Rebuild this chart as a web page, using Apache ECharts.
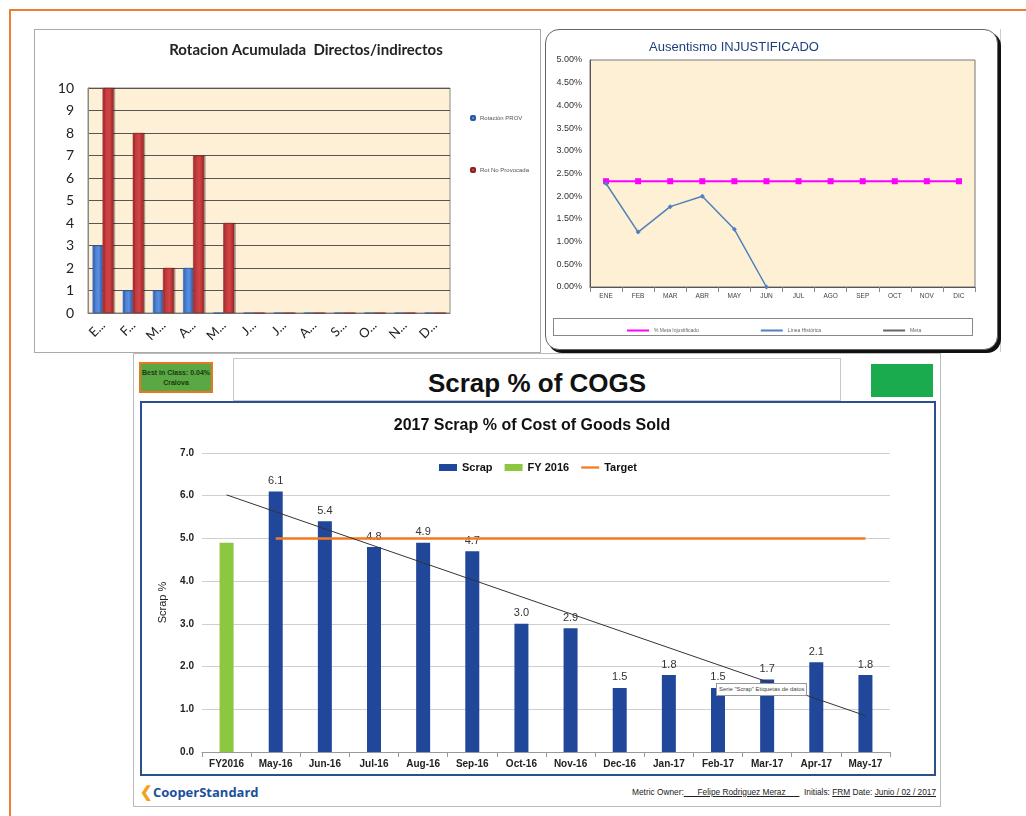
<!DOCTYPE html>
<html><head><meta charset="utf-8">
<script src="https://cdn.jsdelivr.net/npm/echarts@6/dist/echarts.min.js"></script>
<style>
html,body{margin:0;padding:0;background:#fff;width:1026px;height:816px;overflow:hidden;font-family:"Liberation Sans",Arial,sans-serif;}
.abs{position:absolute;box-sizing:border-box;}
</style></head><body>
<!-- orange frame -->
<div class="abs" style="left:10px;top:9px;width:1016px;height:2px;background:#f07c2f"></div>
<div class="abs" style="left:9px;top:9px;width:2px;height:807px;background:#f07c2f"></div>
<!-- panel 1 -->
<div class="abs" style="left:34px;top:29px;width:507px;height:324px;border:1px solid #aaa;background:#fff"></div>
<div id="c1" class="abs" style="left:35px;top:30px;width:505px;height:322px"></div>
<!-- panel 2 -->
<div class="abs" style="left:1000px;top:29px;width:26px;height:323px;border-left:1px solid #ccc"></div>
<div class="abs" style="left:545px;top:29px;width:453px;height:321px;border:1px solid #666;border-radius:14px;box-shadow:3px 3px 0 #111;background:#fff"></div>
<div id="c2" class="abs" style="left:546px;top:30px;width:450px;height:318px"></div>
<div class="abs" style="left:553px;top:318px;width:420px;height:18px;border:1px solid #888"></div>
<!-- panel 3 -->
<div class="abs" style="left:133px;top:353px;width:808px;height:454px;border:1px solid #bbb;background:#fff"></div>
<div class="abs" style="left:233px;top:358px;width:608px;height:43px;border:1px solid #c8c8c8"></div>
<div class="abs" style="left:139px;top:362px;width:74px;height:31px;background:#5aa843;border:2px solid #e87722;font:bold 7px 'Liberation Sans',Arial;color:#1d3a12;text-align:center;line-height:10px;padding-top:4px;white-space:nowrap">Best in Class: 0.04%<br>Cralova</div>
<div class="abs" style="left:300px;top:366px;width:474px;height:34px;text-align:center;font:bold 26px 'Liberation Sans',Arial;color:#111;line-height:34px">Scrap % of COGS</div>
<div class="abs" style="left:871px;top:364px;width:62px;height:33px;background:#1aab4f"></div>
<div class="abs" style="left:140px;top:401px;width:796px;height:375px;border:2px solid #2c4f94"></div>
<div id="c3" class="abs" style="left:142px;top:403px;width:792px;height:371px"></div>
<div class="abs" style="left:716px;top:683px;width:91px;height:13px;border:1px solid #999;background:#fff;font:5.9px 'Liberation Sans',Arial;color:#444;line-height:11px;padding-left:2px;white-space:nowrap;overflow:hidden">Serie "Scrap" Etiquetas de datos</div>
<div class="abs" style="left:140px;top:782px;width:140px;height:18px;font:bold 13px 'Open Sans',Arial;color:#1b4f9c;line-height:18px;white-space:nowrap"><span style="color:#f2a31b;font-size:15px">&#x276E;</span>CooperStandard</div>
<div class="abs" style="left:560px;top:785px;width:376px;height:14px;font:8.3px 'Liberation Sans',Arial;color:#222;line-height:14px;white-space:nowrap;text-align:right">Metric Owner:<u>&nbsp;&nbsp;&nbsp;&nbsp;&nbsp;&nbsp;Felipe Rodriguez Meraz&nbsp;&nbsp;&nbsp;&nbsp;&nbsp;&nbsp;</u>&nbsp; Initials: <u>FRM</u> Date: <u>Junio / 02 / 2017</u></div>
<script>
// ---------- data ----------
const rotMonths = ['E...','F...','M...','A...','M...','J...','J...','A...','S...','O...','N...','D...'];
const rotProv = [3,1,1,2,0,0,0,0,0,0,0,0];
const rotNoProv = [10,8,2,7,4,0,0,0,0,0,0,0];

const ausMonths = ['ENE','FEB','MAR','ABR','MAY','JUN','JUL','AGO','SEP','OCT','NOV','DIC'];
const ausMeta = [0.0233,0.0233,0.0233,0.0233,0.0233,0.0233,0.0233,0.0233,0.0233,0.0233,0.0233,0.0233];
const ausReal = [0.0228,0.0121,0.0177,0.0200,0.0127,0.0000,null,null,null,null,null,null];
const ausMetaB = [null,null,null,null,null,null,null,null,null,null,null,null];

const scrapCats = ['FY2016','May-16','Jun-16','Jul-16','Aug-16','Sep-16','Oct-16','Nov-16','Dec-16','Jan-17','Feb-17','Mar-17','Apr-17','May-17'];
const scrapVals = [null,6.1,5.4,4.8,4.9,4.7,3.0,2.9,1.5,1.8,1.5,1.7,2.1,1.8];
const fy2016Vals = [4.9,null,null,null,null,null,null,null,null,null,null,null,null,null];
const targetVals = [null,5,5,5,5,5,5,5,5,5,5,5,5,5];
const trendEnds = [[0,6.02],[13,0.85]];
</script>
<script>
// ---------- chart 1 ----------
const c1 = echarts.init(document.getElementById('c1'));
c1.setOption({
  animation:false,
  title:{text:'Rotacion Acumulada  Directos/indirectos',left:266,top:8,textAlign:'center',
    textStyle:{fontFamily:'Lato',fontSize:15,fontWeight:'bold',color:'#222'}},
  legend:{orient:'vertical',left:430,top:80,itemGap:46,itemWidth:4,itemHeight:4,
    textStyle:{fontSize:6,color:'#555'},data:['Rotación PROV','Rot No Provocada']},
  grid:{left:53,right:90,top:58,bottom:39,show:true,backgroundColor:'#fdf0d6',borderColor:'#888',borderWidth:1},
  xAxis:{type:'category',data:rotMonths,axisTick:{show:false},axisLine:{lineStyle:{color:'#777'}},
    axisLabel:{rotate:45,fontFamily:'Lato',fontSize:13,color:'#222',margin:10}},
  yAxis:{type:'value',min:0,max:10,interval:1,axisLine:{show:true,lineStyle:{color:'#888'}},
    axisLabel:{fontFamily:'Lato',fontSize:14,color:'#222',margin:14},
    splitLine:{lineStyle:{color:'#555',width:1}}},
  series:[
    {name:'Rotación PROV',type:'bar',data:rotProv,barWidth:10,barGap:'0%',
      itemStyle:{color:new echarts.graphic.LinearGradient(0,0,1,0,[{offset:0,color:'#3b70c8'},{offset:0.6,color:'#5b8fe0'},{offset:1,color:'#2d5aa8'}]),
      borderColor:'#2a58a8',borderWidth:0.5,shadowColor:'rgba(0,0,0,0.25)',shadowOffsetX:1.5}},
    {name:'Rot No Provocada',type:'bar',data:rotNoProv,barWidth:11,
      itemStyle:{color:new echarts.graphic.LinearGradient(0,0,1,0,[{offset:0,color:'#b83234'},{offset:0.6,color:'#d24446'},{offset:1,color:'#9c2426'}]),
      borderColor:'#8d2022',borderWidth:0.5,shadowColor:'rgba(0,0,0,0.3)',shadowOffsetX:1.5}}
  ]
});
// ---------- chart 2 ----------
const c2 = echarts.init(document.getElementById('c2'));
c2.setOption({
  animation:false,
  title:{text:'Ausentismo INJUSTIFICADO',left:183,top:6,textAlign:'center',
    textStyle:{fontFamily:'Liberation Sans Narrow, Liberation Sans',fontSize:13,fontWeight:'normal',color:'#1f3f7a'}},
  legend:{left:76,top:293,itemGap:62,itemWidth:22,itemHeight:2,icon:'rect',width:420,
    textStyle:{fontSize:5,color:'#666'},data:['% Meta Injustificado','Línea Histórica','Meta']},
  grid:{left:44,right:21,top:30,bottom:61,show:true,backgroundColor:'#fdf0d4',borderColor:'#777',borderWidth:1},
  xAxis:{type:'category',data:ausMonths,axisTick:{show:true,lineStyle:{color:'#888'}},axisLine:{lineStyle:{color:'#555'}},
    axisLabel:{fontSize:6.5,color:'#444',margin:6}},
  yAxis:{type:'value',min:0,max:0.05,interval:0.005,axisLine:{show:true,lineStyle:{color:'#555'}},
    axisLabel:{fontFamily:'Liberation Sans Narrow, Liberation Sans',fontSize:9,color:'#333',formatter:v=>(v*100).toFixed(2)+'%'},
    splitLine:{show:false}},
  series:[
    {name:'% Meta Injustificado',type:'line',data:ausMeta,symbol:'rect',symbolSize:6,
      lineStyle:{color:'#ff00ff',width:2},itemStyle:{color:'#ff00ff'}},
    {name:'Línea Histórica',type:'line',data:ausReal,symbol:'diamond',symbolSize:5,
      lineStyle:{color:'#4f81bd',width:1.5},itemStyle:{color:'#4f81bd'}},
    {name:'Meta',type:'line',data:ausMetaB,symbol:'none',lineStyle:{color:'#666',width:1},itemStyle:{color:'#666'}}
  ]
});
// ---------- chart 3 ----------
const c3 = echarts.init(document.getElementById('c3'));
c3.setOption({
  animation:false,
  title:{text:'2017 Scrap % of Cost of Goods Sold',left:385,top:10,textAlign:'center',
    textStyle:{fontFamily:'Liberation Sans',fontSize:16,fontWeight:'bold',color:'#111'}},
  legend:{left:'center',top:54,itemGap:12,itemWidth:18,itemHeight:7,
    textStyle:{fontFamily:'Liberation Sans',fontSize:11,fontWeight:'bold',color:'#111'},
    data:[{name:'Scrap',icon:'rect'},{name:'FY 2016',icon:'rect'},{name:'Target',icon:'path://M0,0L20,0L20,2.5L0,2.5Z'}]},
  grid:{left:60,right:44,top:50,bottom:22},
  xAxis:{type:'category',data:scrapCats,axisTick:{show:true,lineStyle:{color:'#999'}},axisLine:{lineStyle:{color:'#999'}},
    axisLabel:{fontFamily:'Liberation Sans',fontSize:10,fontWeight:'bold',color:'#222',margin:7,interval:0}},
  yAxis:{type:'value',min:0,max:7,interval:1,name:'Scrap %',nameLocation:'middle',nameGap:34,nameRotate:90,
    nameTextStyle:{fontFamily:'Liberation Sans',fontSize:11,color:'#222'},
    axisLine:{show:false},axisLabel:{fontFamily:'Liberation Sans',fontSize:10,fontWeight:'bold',color:'#222',formatter:v=>v.toFixed(1)},
    splitLine:{lineStyle:{color:'#cfcfcf'}}},
  series:[
    {name:'Scrap',type:'bar',data:scrapVals,barWidth:14,barGap:'-100%',itemStyle:{color:'#21479a'},
      label:{show:true,position:'top',fontFamily:'Liberation Sans',fontSize:11,color:'#333',distance:5,formatter:p=>p.value.toFixed(1)}},
    {name:'FY 2016',type:'bar',data:fy2016Vals,barWidth:14,itemStyle:{color:'#8dc63f'}},
    {name:'Target',type:'line',data:targetVals,symbol:'none',lineStyle:{color:'#f47920',width:2.5},itemStyle:{color:'#f47920'},z:5},
    {name:'Trend',type:'line',data:trendEnds,symbol:'none',lineStyle:{color:'#333',width:1},z:6}
  ]
});
</script>
</body></html>
